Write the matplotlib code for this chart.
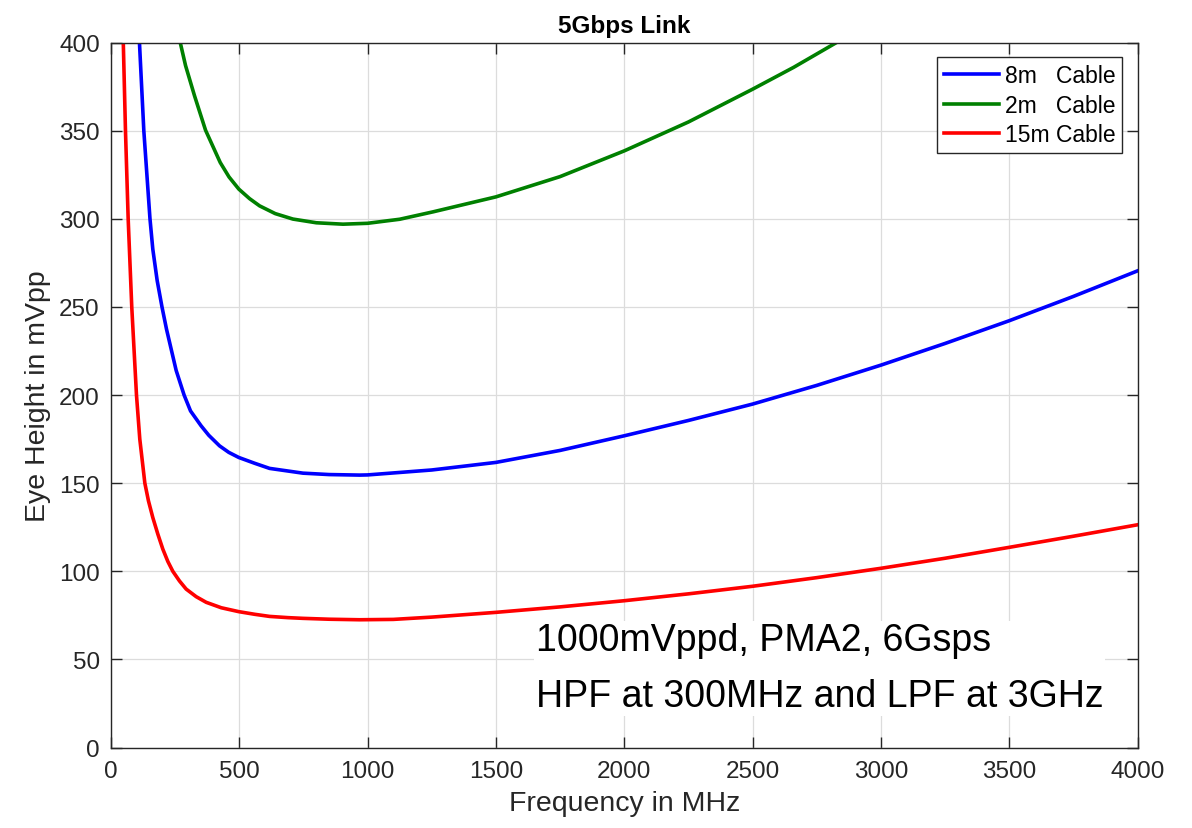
import matplotlib
matplotlib.use('Agg')
import matplotlib.pyplot as plt

plt.rcParams['font.family'] = ['Liberation Sans', 'DejaVu Sans']

# Eye height (mVpp) vs filter frequency (MHz)
freq_8m = [111, 128, 152, 163, 180, 198.8, 216.4, 234.7, 254, 285, 310, 351,
           381, 423, 459, 498, 560, 618, 748, 850, 969, 1000, 1250, 1500,
           1750, 2000, 2250, 2500, 2750, 3000, 3250, 3500, 3750, 4000]
eye_8m = [400, 350, 300, 282.8, 265, 250, 237.4, 226, 214, 200, 191, 182.6,
          177.2, 171.2, 167.5, 164.6, 161.3, 158.4, 155.7, 154.9, 154.6, 154.7,
          157.5, 161.8, 168.6, 176.9, 185.6, 194.9, 205.5, 217, 229.3, 242.2,
          256, 270.5]

freq_2m = [270, 290.6, 325.7, 368.6, 425.7, 460, 498.2, 540, 579, 640, 709,
           800, 904, 1000, 1125, 1255, 1500, 1750, 2000, 2250, 2500, 2660,
           2826]
eye_2m = [400, 387, 369.8, 350.3, 332, 323.8, 316.9, 311.5, 307.4, 303, 299.9,
          297.8, 297, 297.5, 299.8, 304, 312.5, 324, 338.6, 355, 373.6, 386,
          400]

freq_15m = [48, 56.5, 67, 81, 99.4, 112.3, 132, 146, 163, 182.6, 202, 221.5,
            241, 267, 293, 332, 371, 430, 498, 560, 618, 690, 748, 850, 969,
            1100, 1250, 1500, 1750, 2000, 2250, 2500, 2750, 3000, 3250, 3500,
            3750, 4000]
eye_15m = [400, 350, 300, 250, 200, 175, 150, 140, 130.5, 121.1, 112.6, 105.6,
           100, 94.5, 89.9, 85.6, 82.4, 79.3, 77.1, 75.6, 74.4, 73.7, 73.3,
           72.8, 72.5, 72.7, 74, 76.7, 79.8, 83.3, 87.2, 91.5, 96.4, 101.7,
           107.4, 113.6, 119.9, 126.4]

labels = ['8m   Cable', '2m   Cable', '15m Cable']
colors = ['#0000ff', '#008000', '#ff0000']
note = '1000mVppd, PMA2, 6Gsps\nHPF at 300MHz and LPF at 3GHz'

fig = plt.figure(figsize=(11.92, 8.29), dpi=100)
ax = fig.add_axes([0.0931, 0.0971, 0.8612, 0.8502])

series = [(freq_8m, eye_8m), (freq_2m, eye_2m), (freq_15m, eye_15m)]
for (f, v), lab, c in zip(series, labels, colors):
    ax.plot(f, v, color=c, linewidth=2.6, label=lab, solid_joinstyle='round')

ax.set_xlim(0, 4000)
ax.set_ylim(0, 400)
ax.set_xticks(range(0, 4001, 500))
ax.set_yticks(range(0, 401, 50))

dark = '#262626'
ax.grid(True, color='#dcdcdc', linewidth=0.9)
ax.set_axisbelow(True)
for s in ax.spines.values():
    s.set_color(dark)
    s.set_linewidth(1.0)
ax.tick_params(direction='in', top=True, right=True, length=8, width=1,
               color=dark, labelcolor=dark, labelsize=17.5)
ax.tick_params(axis='x', pad=9)
ax.tick_params(axis='y', pad=8)

ax.set_xlabel('Frequency in MHz', fontsize=20.5, color=dark, labelpad=6)
ax.set_ylabel('Eye Height in mVpp', fontsize=20.5, color=dark, labelpad=6)
ax.set_title('5Gbps Link', fontsize=17.5, fontweight='bold', pad=8)

leg = ax.legend(loc='upper right', bbox_to_anchor=(0.985, 0.98),
                borderaxespad=0, fontsize=16.5, handlelength=2.4,
                handletextpad=0.25, labelspacing=0.3, borderpad=0.3,
                fancybox=False, framealpha=1)
leg.get_frame().set_edgecolor(dark)
leg.get_frame().set_linewidth(1.0)

ax.text(1655, 45, note, fontsize=27, va='center', ha='left',
        linespacing=1.72, color='black',
        bbox=dict(facecolor='white', edgecolor='none', pad=1))

plt.savefig('out.png', dpi=100)
